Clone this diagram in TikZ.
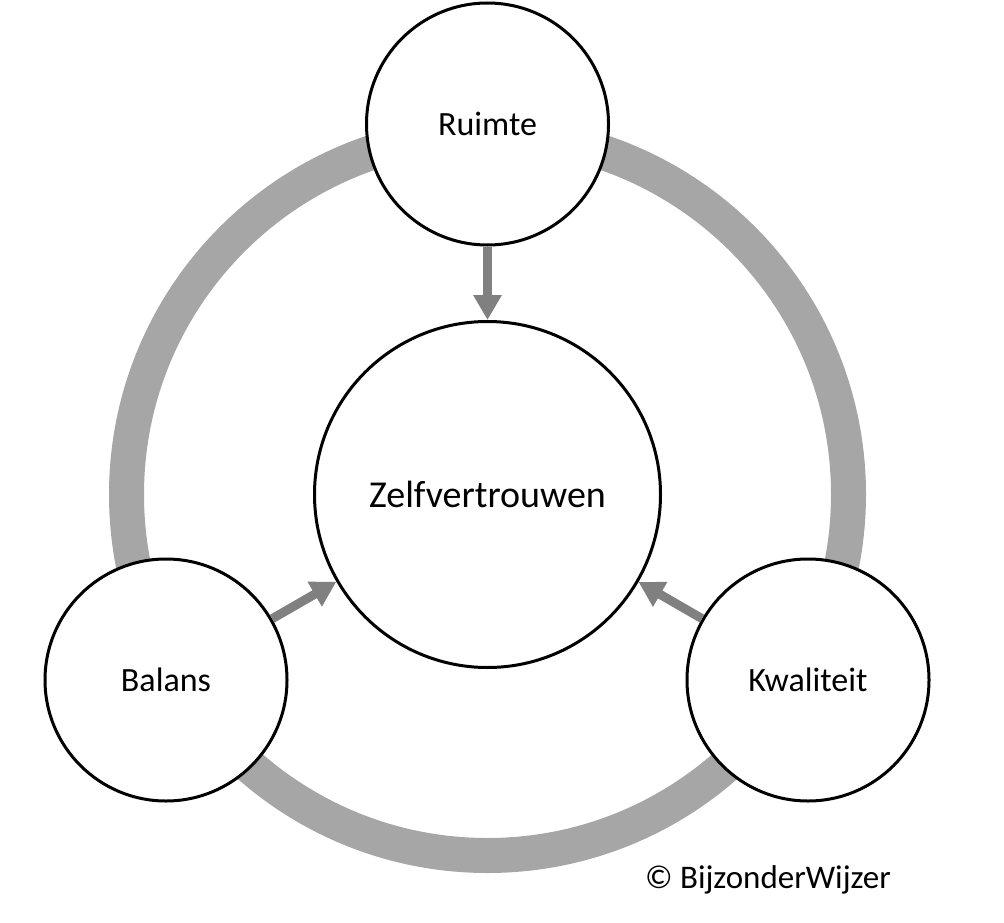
\documentclass[tikz,border=0pt]{standalone}
\usepackage{fontspec}
\setmainfont{Carlito}
\usetikzlibrary{arrows.meta}
\definecolor{ringgray}{HTML}{A6A6A6}
\definecolor{arrowgray}{HTML}{808080}
\tikzset{
    bubble/.style={circle, draw=black, fill=white, line width=3pt, inner sep=0pt},
    pijl/.style={draw=arrowgray, line width=9pt, -{Triangle[width=27pt,length=25pt]}}
}
\begin{document}
\begin{tikzpicture}[x=1pt, y=-1pt, font=\fontsize{34}{40}\selectfont]
            \useasboundingbox (0, 0) rectangle (1004, 923);
            \coordinate (M) at (487.5, 494.5);

            \draw[ringgray, line width=35pt] (M) circle (361);

            \node[bubble, minimum size=346pt, font=\fontsize{38}{44}\selectfont] (Z) at (M) {Zelfvertrouwen};
            \node[bubble, minimum size=242pt] (R) at (487.5, 124) {Ruimte};
            \node[bubble, minimum size=242pt] (B) at (166, 680) {Balans};
            \node[bubble, minimum size=242pt] (K) at (808, 680) {Kwaliteit};

            \draw[pijl] (R) -- (Z);
            \draw[pijl] (B) -- (Z);
            \draw[pijl] (K) -- (Z);

            \node[font=\fontsize{33}{39}\selectfont] (copy) at (768, 880) {© BijzonderWijzer};
        \end{tikzpicture}
\end{document}
